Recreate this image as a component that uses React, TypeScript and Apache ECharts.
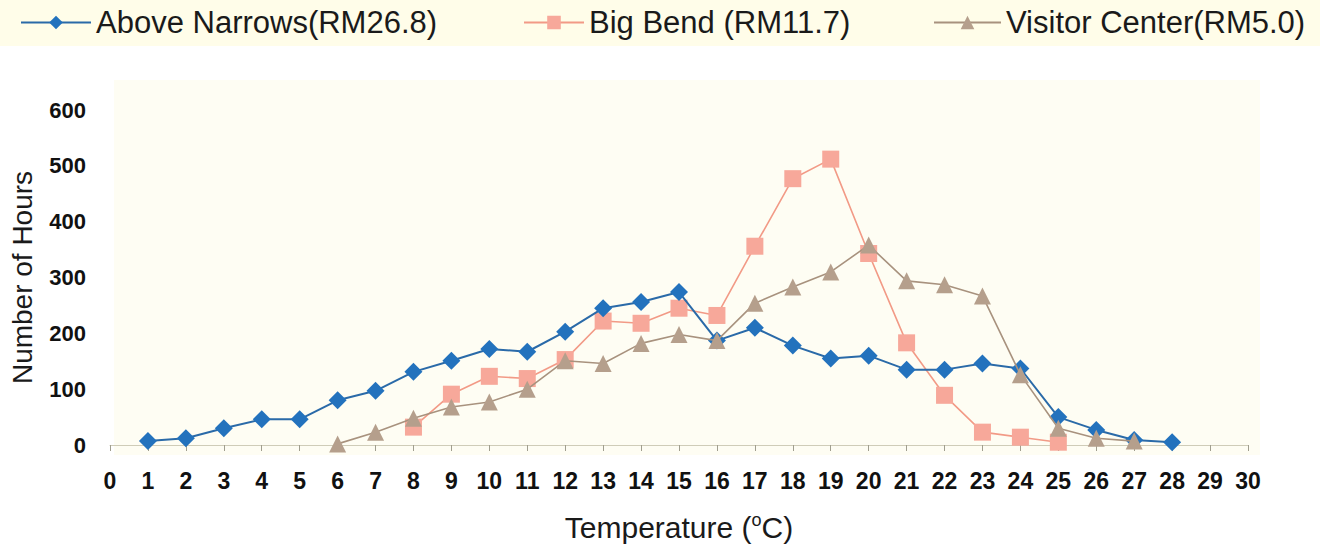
import React, { useEffect, useRef } from "react";
import * as echarts from "echarts";

const seriesNames = ["Above Narrows(RM26.8)", "Big Bend (RM11.7)", "Visitor Center(RM5.0)"];

const aboveNarrowsX = [1, 2, 3, 4, 5, 6, 7, 8, 9, 10, 11, 12, 13, 14, 15, 16, 17, 18, 19, 20, 21, 22, 23, 24, 25, 26, 27, 28];
const aboveNarrowsY = [7, 12, 30, 46, 46, 80, 97, 131, 151, 172, 167, 203, 245, 256, 274, 187, 210, 178, 155, 160, 135, 135, 146, 137, 50, 27, 9, 5];

const bigBendX = [8, 9, 10, 11, 12, 13, 14, 15, 16, 17, 18, 19, 20, 21, 22, 23, 24, 25];
const bigBendY = [32, 91, 123, 119, 153, 222, 218, 245, 232, 356, 477, 512, 343, 183, 89, 23, 14, 5];

const visitorX = [6, 7, 8, 9, 10, 11, 12, 13, 14, 15, 16, 17, 18, 19, 20, 21, 22, 23, 24, 25, 26, 27];
const visitorY = [2, 23, 48, 68, 77, 100, 151, 146, 182, 198, 187, 254, 283, 310, 358, 294, 287, 267, 126, 30, 12, 7];

const xRange = [0, 30];
const yRange = [0, 600];

const pair = (xs: number[], ys: number[]) => xs.map((x, i) => [x, ys[i]]);

export default function App() {
  const ref = useRef<HTMLDivElement>(null);
  useEffect(() => {
    document.body.style.margin = "0";
    document.body.style.background = "#ffffff";
    const chart = echarts.init(ref.current!, null, { renderer: "svg" });
    const font = "Liberation Sans, Arial, sans-serif";
    const legendBase = {
      top: 2,
      itemHeight: 17,
      textStyle: { fontSize: 31, color: "#1a1a1a", fontFamily: font },
    };
    chart.setOption({
      animation: false,
      backgroundColor: "#ffffff",
      graphic: [
        { type: "rect", shape: { x: 0, y: 0, width: 1320, height: 46 }, style: { fill: "#fffde9" }, z: -10 },
        { type: "rect", shape: { x: 114, y: 80, width: 1146, height: 375 }, style: { fill: "#fefdf3" }, z: -10 },
      ],
      legend: [
        { ...legendBase, left: 15, itemWidth: 70, data: [seriesNames[0]] },
        { ...legendBase, left: 518, itemWidth: 60, data: [seriesNames[1]] },
        { ...legendBase, left: 928, itemWidth: 67, data: [seriesNames[2]] },
      ],
      grid: {
        left: 110,
        right: 72,
        top: 110,
        bottom: 103,
        show: false,
        outerBoundsMode: "none",
        containLabel: false,
      },
      xAxis: {
        type: "value",
        min: xRange[0],
        max: xRange[1],
        interval: 1,
        name: "Temperature ({sup|o}C)",
        nameLocation: "middle",
        nameGap: 66,
        nameTextStyle: {
          fontSize: 30,
          color: "#1a1a1a",
          fontFamily: font,
          rich: {
            sup: { fontSize: 18, verticalAlign: "top", padding: [0, 0, 14, 0], color: "#1a1a1a", fontFamily: font },
          },
        },
        axisLine: { show: true, lineStyle: { color: "#cfccb8", width: 1 } },
        axisTick: { show: true, length: 6, inside: false, lineStyle: { color: "#a09e8e" } },
        axisLabel: { fontSize: 23, color: "#111", fontFamily: font, fontWeight: "bold", margin: 24 },
        splitLine: { show: false },
      },
      yAxis: {
        type: "value",
        min: yRange[0],
        max: yRange[1],
        interval: 100,
        name: "Number of Hours",
        nameLocation: "middle",
        nameGap: 74,
        nameTextStyle: { fontSize: 28, color: "#1a1a1a", fontFamily: font },
        axisLine: { show: false },
        axisTick: { show: false },
        axisLabel: { fontSize: 22, color: "#111", fontFamily: font, fontWeight: "bold", margin: 24 },
        splitLine: { show: false },
      },
      series: [
        {
          name: seriesNames[0],
          type: "line",
          data: pair(aboveNarrowsX, aboveNarrowsY),
          symbol: "diamond",
          symbolSize: 18,
          lineStyle: { color: "#2a6aa8", width: 2 },
          itemStyle: { color: "#2372bd" },
          z: 3,
        },
        {
          name: seriesNames[1],
          type: "line",
          data: pair(bigBendX, bigBendY),
          symbol: "rect",
          symbolSize: 17,
          lineStyle: { color: "#f29a86", width: 1.6 },
          itemStyle: { color: "#f7a89a" },
          z: 2,
        },
        {
          name: seriesNames[2],
          type: "line",
          data: pair(visitorX, visitorY),
          symbol: "triangle",
          symbolSize: 17,
          lineStyle: { color: "#a8927e", width: 1.6 },
          itemStyle: { color: "#b59f8c" },
          z: 4,
        },
      ],
    });
    return () => chart.dispose();
  }, []);
  return <div ref={ref} style={{ width: 1320, height: 548 }} />;
}
